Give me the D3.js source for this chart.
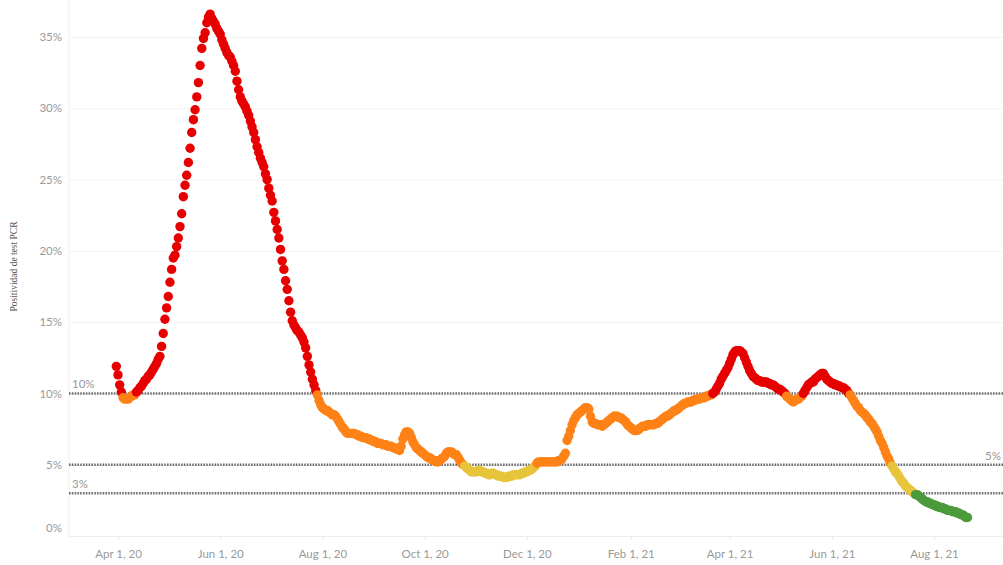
<!DOCTYPE html>
<html>
<head>
<meta charset="utf-8">
<script src="https://cdn.jsdelivr.net/npm/d3@7"></script>
<style>
  html, body { margin: 0; padding: 0; background: #fff; }
  svg { display: block; }
</style>
</head>
<body>
<div id="chart"></div>
<script>
// daily PCR test positivity (%), one array per month
const mar20 = [11.9];
const apr20 = [11.3, 10.6, 10.1, 9.7, 9.6, 9.6, 9.6, 9.7, 9.8, 9.9, 9.9, 10.1, 10.2, 10.4, 10.5, 10.7, 10.9, 11.0, 11.2, 11.3,
  11.5, 11.7, 11.9, 12.1, 12.4, 12.6, 13.3, 14.2, 15.2, 16.0];
const may20 = [16.8, 17.8, 18.7, 19.5, 19.7, 20.3, 20.9, 21.7, 22.6, 23.8, 24.6, 25.3, 26.2, 27.2, 28.3, 29.2, 29.9, 30.8, 31.8, 33.0,
  34.2, 34.9, 35.3, 36.0, 36.4, 36.6, 36.3, 36.1, 35.9, 35.6, 35.4];
const jun20 = [35.2, 34.8, 34.5, 34.2, 33.9, 33.7, 33.6, 33.3, 33.0, 32.6, 31.9, 31.3, 30.8, 30.5, 30.3, 30.1, 29.8, 29.5, 29.1, 28.7,
  28.3, 27.8, 27.3, 26.9, 26.5, 26.2, 25.9, 25.4, 25.0, 24.4];
const jul20 = [23.9, 23.5, 22.7, 22.1, 21.5, 20.9, 20.1, 19.3, 18.7, 17.9, 17.3, 16.5, 15.7, 15.1, 14.8, 14.6, 14.4, 14.3, 14.1, 13.9,
  13.6, 13.2, 12.6, 12.0, 11.5, 11.0, 10.6, 10.2, 9.9, 9.5, 9.2];
const aug20 = [9.0, 8.9, 8.8, 8.8, 8.7, 8.6, 8.5, 8.5, 8.4, 8.2, 8.0, 7.8, 7.6, 7.5, 7.3, 7.2, 7.2, 7.2, 7.2, 7.2,
  7.1, 7.1, 7.0, 7.0, 6.9, 6.9, 6.9, 6.8, 6.8, 6.7, 6.7];
const sep20 = [6.6, 6.6, 6.5, 6.5, 6.5, 6.4, 6.4, 6.4, 6.3, 6.3, 6.3, 6.2, 6.2, 6.1, 6.1, 6.0, 6.3, 6.8, 7.1, 7.3,
  7.3, 7.2, 6.9, 6.6, 6.4, 6.2, 6.1, 6.0, 5.9, 5.8];
const oct20 = [5.7, 5.6, 5.5, 5.5, 5.4, 5.3, 5.3, 5.2, 5.2, 5.3, 5.4, 5.5, 5.6, 5.8, 5.9, 5.9, 5.9, 5.8, 5.7, 5.7,
  5.5, 5.3, 5.1, 5.0, 4.9, 4.8, 4.7, 4.6, 4.5, 4.5, 4.5];
const nov20 = [4.5, 4.6, 4.6, 4.5, 4.5, 4.4, 4.4, 4.3, 4.3, 4.4, 4.4, 4.3, 4.3, 4.2, 4.2, 4.2, 4.1, 4.1, 4.1, 4.2,
  4.2, 4.2, 4.3, 4.3, 4.3, 4.3, 4.3, 4.4, 4.4, 4.5];
const dec20 = [4.5, 4.6, 4.6, 4.7, 4.8, 4.9, 5.1, 5.2, 5.2, 5.2, 5.2, 5.2, 5.2, 5.2, 5.2, 5.2, 5.2, 5.2, 5.2, 5.3,
  5.3, 5.4, 5.6, 5.8, 6.7, 7.0, 7.4, 7.8, 8.1, 8.3, 8.5];
const jan21 = [8.6, 8.7, 8.8, 8.9, 9.0, 9.0, 8.9, 8.4, 8.0, 7.9, 7.9, 7.8, 7.8, 7.8, 7.7, 7.8, 7.9, 8.0, 8.1, 8.2,
  8.3, 8.4, 8.4, 8.4, 8.3, 8.3, 8.2, 8.1, 8.0, 7.8, 7.7];
const feb21 = [7.6, 7.5, 7.4, 7.4, 7.4, 7.5, 7.6, 7.7, 7.7, 7.7, 7.8, 7.8, 7.8, 7.8, 7.8, 7.9, 7.9, 8.0, 8.1, 8.2,
  8.3, 8.4, 8.4, 8.5, 8.6, 8.7, 8.8, 8.8];
const mar21 = [8.9, 9.0, 9.1, 9.2, 9.3, 9.3, 9.4, 9.4, 9.4, 9.5, 9.5, 9.6, 9.6, 9.6, 9.7, 9.7, 9.7, 9.8, 9.8, 9.9,
  9.9, 10.0, 10.1, 10.3, 10.5, 10.7, 11.0, 11.2, 11.4, 11.6, 11.8];
const apr21 = [12.1, 12.4, 12.7, 12.9, 13.0, 13.0, 13.0, 12.9, 12.8, 12.5, 12.2, 11.9, 11.6, 11.4, 11.2, 11.1, 11.0, 10.9, 10.9, 10.8,
  10.8, 10.8, 10.8, 10.7, 10.7, 10.6, 10.6, 10.5, 10.4, 10.3];
const may21 = [10.3, 10.2, 10.1, 10.0, 9.8, 9.7, 9.6, 9.5, 9.4, 9.5, 9.6, 9.6, 9.7, 9.8, 10.0, 10.2, 10.4, 10.6, 10.7, 10.8,
  10.8, 11.0, 11.1, 11.2, 11.3, 11.4, 11.4, 11.2, 11.0, 10.9, 10.8];
const jun21 = [10.7, 10.7, 10.6, 10.6, 10.5, 10.5, 10.4, 10.4, 10.3, 10.2, 10.0, 9.9, 9.7, 9.5, 9.3, 9.1, 9.0, 8.8, 8.7, 8.6,
  8.5, 8.3, 8.2, 8.0, 7.9, 7.7, 7.5, 7.3, 7.0, 6.7];
const jul21 = [6.5, 6.2, 5.9, 5.6, 5.4, 5.1, 4.9, 4.7, 4.5, 4.4, 4.2, 4.0, 3.8, 3.7, 3.5, 3.4, 3.3, 3.2, 3.1, 3.0,
  2.9, 2.9, 2.8, 2.7, 2.6, 2.5, 2.4, 2.4, 2.3, 2.3, 2.2];
const aug21 = [2.2, 2.1, 2.1, 2.0, 2.0, 2.0, 1.9, 1.9, 1.8, 1.8, 1.8, 1.7, 1.7, 1.7, 1.6, 1.6, 1.5, 1.5, 1.4, 1.3, 1.3];

const monthStarts = ['2020-03-31', '2020-04-01', '2020-05-01', '2020-06-01', '2020-07-01', '2020-08-01', '2020-09-01',
  '2020-10-01', '2020-11-01', '2020-12-01', '2021-01-01', '2021-02-01', '2021-03-01', '2021-04-01', '2021-05-01',
  '2021-06-01', '2021-07-01', '2021-08-01'];
const monthValues = [mar20, apr20, may20, jun20, jul20, aug20, sep20, oct20, nov20, dec20, jan21, feb21, mar21,
  apr21, may21, jun21, jul21, aug21];

const xTickDates = ['2020-04-01', '2020-06-01', '2020-08-01', '2020-10-01', '2020-12-01', '2021-02-01',
  '2021-04-01', '2021-06-01', '2021-08-01'];
const yTicks = [0, 5, 10, 15, 20, 25, 30, 35];
const refLines = [10, 5, 3];
const refLabelSide = ['left', 'right', 'left'];
const thresholds = [3, 5, 10];
const thresholdColors = ['#4b9a3c', '#e8c43c', '#ff8217', '#e60000'];
const yTitle = 'Positividad de test PCR';

const parseDate = d3.timeParse('%Y-%m-%d');

// flatten month arrays into daily points
const data = [];
monthStarts.forEach((s, m) => {
  const start = parseDate(s);
  monthValues[m].forEach((v, i) => {
    data.push({ date: d3.timeDay.offset(start, i), value: v });
  });
});

function drawChart(id) {
  const width = 1003;
  const height = 565;
  const margin = { left: 69, bottom: 536, top: 37 };

  const svg = d3.select('#' + id)
    .append('svg')
    .attr('width', width)
    .attr('height', height);

  const xScale = d3.scaleTime()
    .domain([parseDate('2020-04-01'), parseDate('2021-08-01')])
    .range([118, 934]);

  const yScale = d3.scaleLinear()
    .domain([0, 35])
    .range([margin.bottom, margin.top]);

  const color = d3.scaleThreshold()
    .domain(thresholds)
    .range(thresholdColors);

  // gridlines + y labels
  const yAxisGroup = svg.append('g')
    .attr('transform', `translate(${margin.left}, 0)`)
    .call(d3.axisLeft(yScale)
      .tickValues(yTicks)
      .tickSize(-(width - margin.left))
      .tickPadding(7)
      .tickFormat(d => d + '%'));
  yAxisGroup.select('.domain').remove();
  yAxisGroup.selectAll('line').attr('stroke', '#f2f2f2');
  yAxisGroup.selectAll('text')
    .attr('fill', '#999')
    .attr('font-family', 'Lato, sans-serif')
    .attr('font-size', 11.5)
    .attr('dy', d => d === 0 ? '-0.4em' : '0.32em');

  // left axis line and bottom line
  svg.append('line')
    .attr('x1', margin.left).attr('x2', margin.left)
    .attr('y1', 0).attr('y2', margin.bottom + 1)
    .attr('stroke', '#eeeeee');
  svg.append('line')
    .attr('x1', margin.left).attr('x2', width)
    .attr('y1', margin.bottom + 0.5).attr('y2', margin.bottom + 0.5)
    .attr('stroke', '#eeeeee');

  // x axis
  const xAxisGroup = svg.append('g')
    .attr('transform', `translate(0, ${margin.bottom + 1})`)
    .call(d3.axisBottom(xScale)
      .tickValues(xTickDates.map(parseDate))
      .tickSize(3)
      .tickPadding(10)
      .tickFormat(d3.timeFormat('%b %-d, %y')));
  xAxisGroup.select('.domain').remove();
  xAxisGroup.selectAll('line').attr('stroke', '#e6e6e6');
  xAxisGroup.selectAll('text')
    .attr('fill', '#999')
    .attr('font-family', 'Lato, sans-serif')
    .attr('font-size', 11.5);

  // y axis title
  svg.append('text')
    .attr('transform', `translate(17, ${(margin.bottom + margin.top) / 2 - 20}) rotate(-90)`)
    .attr('text-anchor', 'middle')
    .attr('fill', '#555')
    .attr('font-family', '"Liberation Serif", serif')
    .attr('font-size', 9.5)
    .text(yTitle);

  // reference lines
  refLines.forEach((r, i) => {
    svg.append('line')
      .attr('x1', margin.left).attr('x2', width)
      .attr('y1', yScale(r)).attr('y2', yScale(r))
      .attr('stroke', '#6e6e6e')
      .attr('stroke-width', 2.6)
      .attr('stroke-dasharray', '1.6 1.2');
    const left = refLabelSide[i] === 'left';
    svg.append('text')
      .attr('x', left ? margin.left + 3 : width - 2)
      .attr('y', yScale(r) - 5)
      .attr('text-anchor', left ? 'start' : 'end')
      .attr('fill', '#999')
      .attr('font-family', 'Lato, sans-serif')
      .attr('font-size', 11.5)
      .text(r + '%');
  });

  // daily dots
  svg.append('g')
    .selectAll('circle')
    .data(data)
    .enter()
    .append('circle')
    .attr('cx', d => xScale(d.date))
    .attr('cy', d => yScale(d.value))
    .attr('r', 4.7)
    .attr('fill', d => color(d.value));
}

drawChart('chart');
</script>
</body>
</html>
